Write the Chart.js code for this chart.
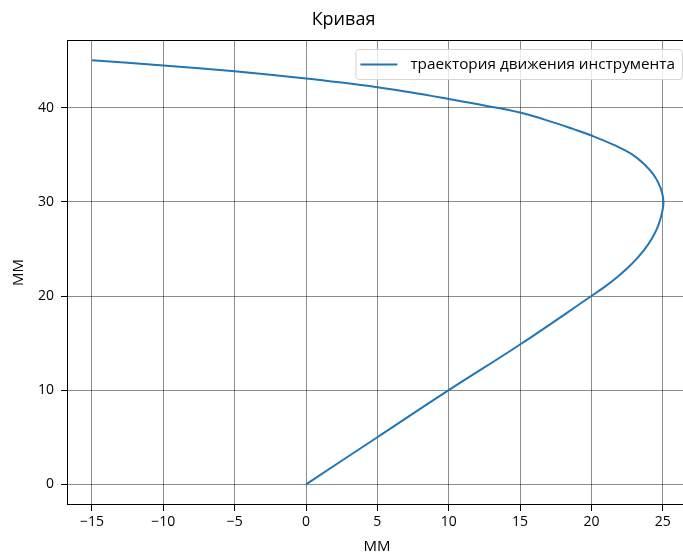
<!DOCTYPE html>
<html>
<head>
<meta charset="utf-8">
<script src="https://cdn.jsdelivr.net/npm/chart.js@4/dist/chart.umd.min.js"></script>
<style>
  html, body { margin: 0; padding: 0; background: #fff; overflow: hidden; }
</style>
</head>
<body>
<canvas id="curveChart" width="688" height="556"></canvas>
<script>
// траектория: x и y точек
const pathX = [0, 5, 10, 15, 20, 20.95, 21.8, 22.55, 23.2, 23.75, 24.2, 24.55, 24.8, 24.97, 25.05,
               24.95, 24.7, 24.3, 23.7, 22.9, 21.65, 20, 18.75, 17.5, 15, 12.5, 10, 7.5, 5, 2.5, 0, -5, -10, -15];
const pathY = [0, 5, 10, 14.85, 20, 21, 22, 23, 24, 25, 26, 27, 28, 29, 30,
               31, 32, 33, 34, 35, 36, 37.05, 37.73, 38.37, 39.49, 40.25, 40.94, 41.6, 42.18, 42.68, 43.12, 43.87, 44.5, 45.05];

const xTicks = [-15, -10, -5, 0, 5, 10, 15, 20, 25];
const yTicks = [0, 10, 20, 30, 40];

const seriesLabel = 'траектория движения инструмента';
const chartTitle = 'Кривая';
const axisLabel = 'MM';

const FONT = "'Open Sans', 'DejaVu Sans', sans-serif";
const lineColor = '#1f77b4';

const points = pathX.map((x, i) => ({ x: x, y: pathY[i] }));

const minusSign = v => String(v).replace('-', '\u2212');

// рамка вокруг области графика + легенда внутри
const framePlugin = {
    id: 'frame',
    afterDraw(chart) {
        const c = chart.ctx;
        const a = chart.chartArea;
        c.save();
        c.strokeStyle = '#000';
        c.lineWidth = 1;
        c.strokeRect(a.left + 0.5, a.top + 0.5, a.right - a.left - 1, a.bottom - a.top - 1);

        c.font = '15.3px ' + FONT;
        const w = c.measureText(seriesLabel).width;
        const boxRight = a.right - 5;
        const textRight = boxRight - 7;
        const textLeft = textRight - w;
        const lineEnd = textLeft - 13;
        const lineStart = lineEnd - 37;
        const boxLeft = lineStart - 5;
        const boxTop = a.top + 9;
        const boxBottom = boxTop + 30;

        c.beginPath();
        c.roundRect(boxLeft + 0.5, boxTop + 0.5, boxRight - boxLeft, boxBottom - boxTop, 3);
        c.fillStyle = 'rgba(255,255,255,0.8)';
        c.fill();
        c.strokeStyle = '#d6d6d6';
        c.stroke();

        const midY = (boxTop + boxBottom) / 2 + 0.5;
        c.beginPath();
        c.moveTo(lineStart, midY);
        c.lineTo(lineEnd, midY);
        c.strokeStyle = lineColor;
        c.lineWidth = 2;
        c.stroke();

        c.fillStyle = '#000';
        c.textBaseline = 'middle';
        c.textAlign = 'left';
        c.fillText(seriesLabel, textLeft, midY);
        c.restore();
    }
};

const ctx = document.getElementById('curveChart').getContext('2d');
const curveChart = new Chart(ctx, {
    type: 'scatter',
    data: {
        datasets: [{
            label: seriesLabel,
            data: points,
            showLine: true,
            borderColor: lineColor,
            borderWidth: 2,
            pointRadius: 0,
            tension: 0.4,
            fill: false
        }]
    },
    options: {
        responsive: false,
        animation: false,
        layout: { padding: { right: 1 } },
        plugins: {
            legend: { display: false },
            tooltip: { enabled: false },
            title: {
                display: true,
                text: chartTitle,
                color: '#000',
                font: { family: FONT, size: 18, weight: 'normal', lineHeight: 1.2 },
                padding: { top: 9.2, bottom: 9.2 }
            }
        },
        scales: {
            x: {
                type: 'linear',
                min: -16.75,
                max: 26.7,
                afterBuildTicks: scale => { scale.ticks = xTicks.map(v => ({ value: v })); },
                afterFit: scale => { scale.height = 51; },
                grid: { color: 'rgba(0,0,0,0.45)', lineWidth: 1, tickLength: 6, tickColor: '#000' },
                border: { display: false },
                ticks: {
                    color: '#000',
                    padding: 3,
                    maxRotation: 0,
                    font: { family: FONT, size: 14 },
                    callback: v => minusSign(v)
                },
                title: {
                    display: true,
                    text: axisLabel,
                    color: '#000',
                    font: { family: FONT, size: 15 },
                    padding: { top: 0, bottom: 0 }
                }
            },
            y: {
                type: 'linear',
                min: -2.2,
                max: 47.2,
                afterBuildTicks: scale => { scale.ticks = yTicks.map(v => ({ value: v })); },
                afterFit: scale => { scale.width = 67; },
                grid: { color: 'rgba(0,0,0,0.45)', lineWidth: 1, tickLength: 6, tickColor: '#000' },
                border: { display: false },
                ticks: {
                    color: '#000',
                    padding: 7,
                    font: { family: FONT, size: 14 },
                    callback: v => minusSign(v)
                },
                title: {
                    display: true,
                    text: axisLabel,
                    color: '#000',
                    font: { family: FONT, size: 15 },
                    padding: { top: 10, bottom: 0 }
                }
            }
        }
    },
    plugins: [framePlugin]
});
</script>
</body>
</html>
